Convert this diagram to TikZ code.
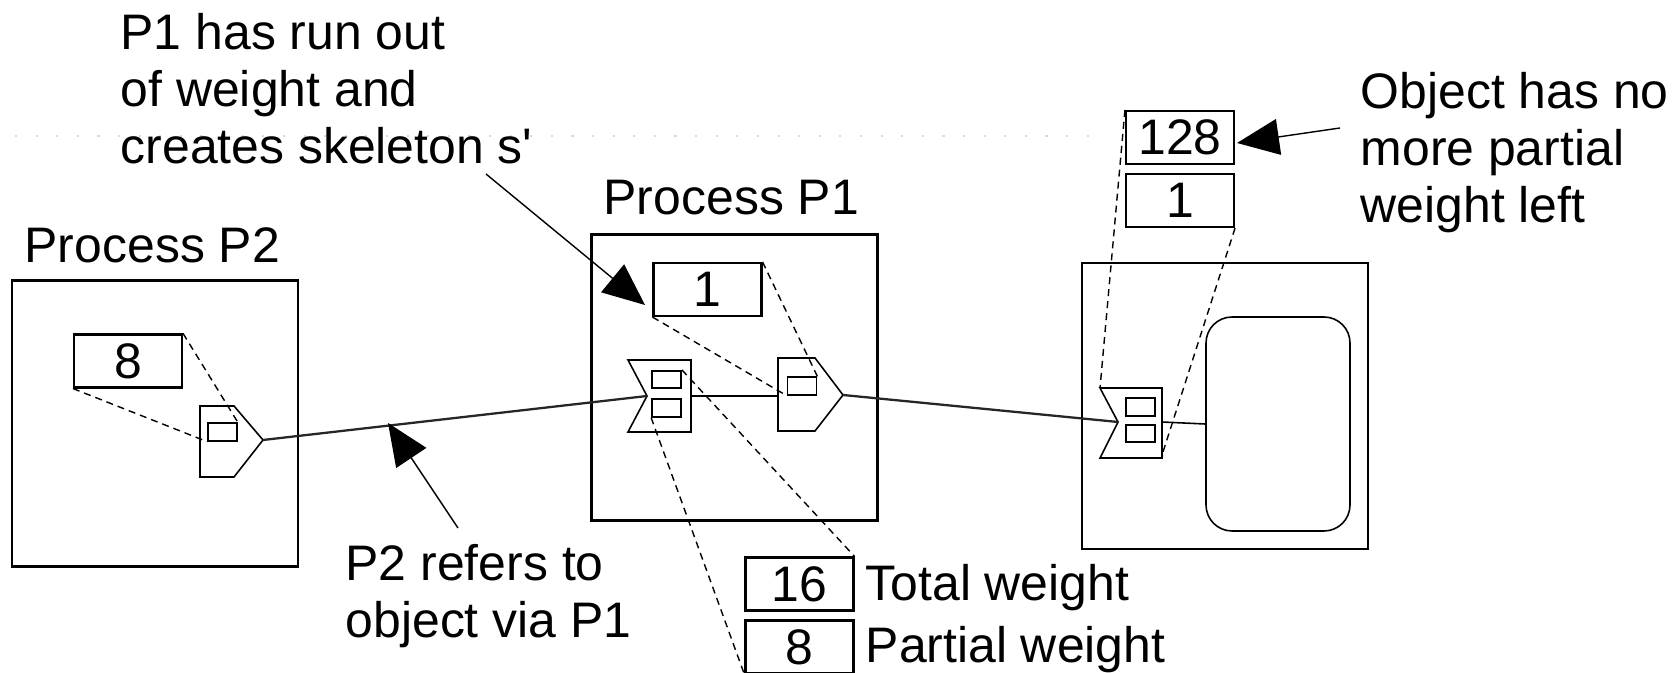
\documentclass[tikz,border=0pt]{standalone}
\usepackage{fontspec}
\setmainfont{Liberation Sans}
\usetikzlibrary{arrows.meta}
\tikzset{
  procbox/.style={rectangle, draw, line width=0.6pt, minimum width=28.6mm, minimum height=28.6mm, inner sep=0pt},
  numbox/.style={rectangle, draw, line width=0.6pt, minimum width=10.8mm, minimum height=5.3mm, inner sep=0pt},
  slot/.style={rectangle, draw, line width=0.5pt, minimum width=2.9mm, minimum height=1.75mm, inner sep=0pt},
  part/.style={line width=0.45pt},
  link/.style={line width=0.4pt, dash pattern=on 0.7mm off 0.5mm},
  ref/.style={line width=0.65pt, black!85},
  note/.style={line width=0.4pt, -{Triangle[length=4.2mm, width=3.6mm]}},
  lbl/.style={anchor=base west, inner sep=0pt, align=left}
}
\begin{document}
\begin{tikzpicture}[x=0.1mm, y=-0.1mm, font=\fontsize{14.2pt}{16.3pt}\selectfont]
        \useasboundingbox (0,0) rectangle (1679,673);
        \draw[black!15, line width=0.6pt, dash pattern=on 0.6pt off 1.85mm] (15,136) -- (1090,136);

        \node[procbox] (p2) at (155,423.5) {};
        \node[procbox] (p1) at (734.5,377.5) {};
        \node[procbox] (obj) at (1225,406) {};
        \node[rectangle, draw, line width=0.45pt, rounded corners=2.6mm, minimum width=14.4mm, minimum height=21.4mm] (body) at (1278,424) {};

        \node[lbl] (p2name) at (24,263) {Process P2};
        \node[lbl] (p1name) at (603,215) {Process P1};
        \node[lbl] (runout) at (120,164) {P1 has run out\\of weight and\\creates skeleton s\textquotesingle};
        \node[lbl] (noleft) at (1360,223) {Object has no\\more partial\\weight left};
        \node[lbl] (via) at (345,638) {P2 refers to\\object via P1};
        \node[lbl] (totlbl) at (865,601) {Total weight};
        \node[lbl] (parlbl) at (865,663) {Partial weight};

        \node[numbox] (p2w) at (128,361) {8};
        \node[numbox] (p1w) at (707.5,289.5) {1};
        \node[numbox] (ow) at (1180,137.5) {128};
        \node[numbox] (os) at (1180,200.5) {1};
        \node[numbox] (tw) at (799.5,584) {16};
        \node[numbox] (pw) at (799.5,647) {8};

        \coordinate (p2tip) at (263,440);
        \coordinate (p1in) at (647,396);
        \coordinate (p1tip) at (843,395);
        \coordinate (objin) at (1118,422);

        \draw[part] (200,406) -- (234,406) -- (p2tip) -- (234,477) -- (200,477) -- cycle;
        \draw[part] (628,360) -- (691,360) -- (691,432) -- (628,432) -- (p1in) -- cycle;
        \draw[part] (778,358) -- (815,358) -- (p1tip) -- (815,431) -- (778,431) -- cycle;
        \draw[part] (1100,388) -- (1162,388) -- (1162,458) -- (1100,458) -- (objin) -- cycle;
        \draw[part] (691,396) -- (778,396);
        \draw[part] (1162,422) -- (body.west);

        \node[slot] (p2s) at (222.5,432) {};
        \node[slot] (p1a) at (666.5,379.5) {};
        \node[slot] (p1b) at (666.5,408) {};
        \node[slot] (p1s) at (802,386) {};
        \node[slot] (oa) at (1140.5,407) {};
        \node[slot] (ob) at (1140.5,433.5) {};

        \draw[ref] (p2tip) -- (p1in);
        \draw[ref] (p1tip) -- (objin);

        \draw[link] (p2w.north east) -- (p2s.north east);
        \draw[link] (p2w.south west) -- (p2s.south west);
        \draw[link] (p1w.north east) -- (p1s.north east);
        \draw[link] (p1w.south west) -- (p1s.south west);
        \draw[link] (p1a.north east) -- (tw.north east);
        \draw[link] (p1b.south west) -- (pw.south west);
        \draw[link] (ow.north west) -- (1100,388);
        \draw[link] (os.south east) -- (1162,455);

        \coordinate (n1) at (486,174);
        \coordinate (n1tip) at (645,305);
        \coordinate (n2) at (458,528);
        \coordinate (n2tip) at (388,423);
        \coordinate (n3) at (1340,128);
        \coordinate (n3tip) at (1237,143);
        \draw[note] (n1) -- (n1tip);
        \draw[note] (n2) -- (n2tip);
        \draw[note] (n3) -- (n3tip);

    \end{tikzpicture}
\end{document}
